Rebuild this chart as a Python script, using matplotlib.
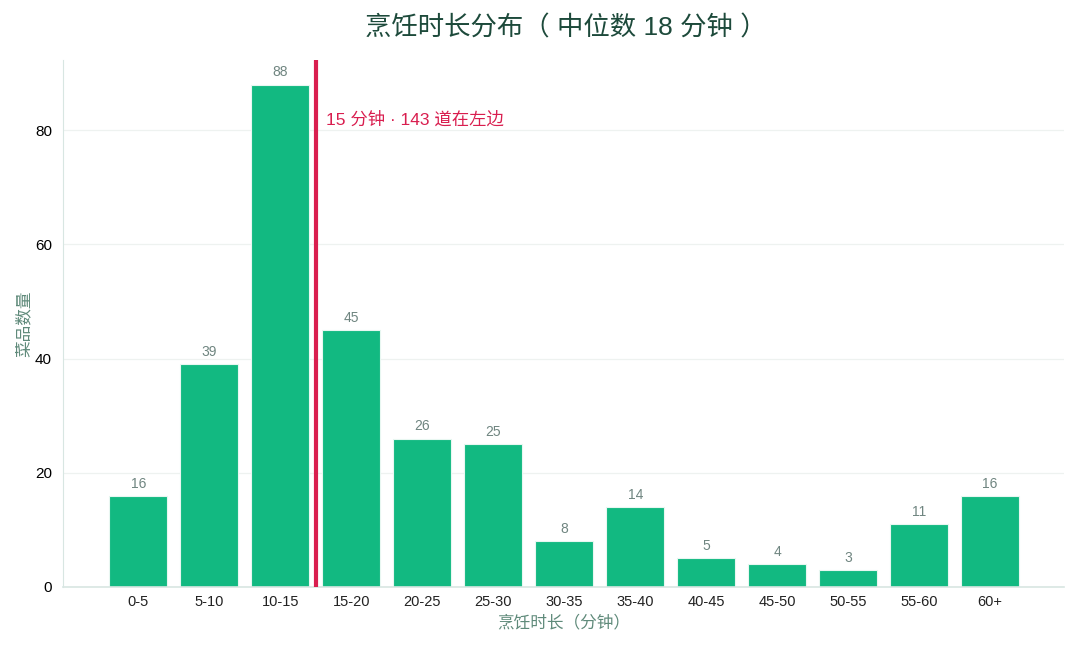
import matplotlib
matplotlib.use("Agg")
import matplotlib.pyplot as plt
import numpy as np

plt.rcParams['font.family'] = ['Liberation Sans', 'Noto Sans CJK SC', 'DejaVu Sans']

# data
bins = ['0-5', '5-10', '10-15', '15-20', '20-25', '25-30', '30-35',
        '35-40', '40-45', '45-50', '50-55', '55-60', '60+']
counts = [16, 39, 88, 45, 26, 25, 8, 14, 5, 4, 3, 11, 16]
cut_pos = 2.5          # boundary between 10-15 and 15-20
cut_label = '15 分钟 · 143 道在左边'

fig = plt.figure(figsize=(10.8, 6.48), dpi=100)
ax = fig.add_axes([63/1080, 1-587/648, (1064-63)/1080, (587-60)/648])

x = np.arange(len(bins))
ax.bar(x, counts, width=0.82, color='#12b981', edgecolor='#e8f7f1', linewidth=0.8, zorder=2)
for xi, c in zip(x, counts):
    ax.text(xi, c + 0.9, str(c), ha='center', va='bottom', fontsize=10, color='#6f8580')

ax.axvline(cut_pos, color='#d91e4f', linewidth=3, zorder=3)
ax.text(cut_pos + 0.14, 81.8, cut_label, color='#d91e4f', fontsize=12.5, va='center', ha='left')

ax.set_xlim(-1.06, 13.04)
ax.set_ylim(0, 92.3)
ax.set_xticks(x)
ax.set_xticklabels(bins, fontsize=10.5, color='#222222')
ax.set_yticks([0, 20, 40, 60, 80])
ax.tick_params(axis='y', labelsize=11, length=0, pad=8)
ax.tick_params(axis='x', length=0, pad=6)
ax.yaxis.grid(True, color='#eef2f0', linewidth=0.9, zorder=0)
ax.set_axisbelow(True)

for s in ['top', 'right']:
    ax.spines[s].set_visible(False)
ax.spines['left'].set_color('#d8e6e2')
ax.spines['bottom'].set_color('#d8e6e2')
ax.spines['bottom'].set_linewidth(1.2)

ax.set_ylabel('菜品数量', fontsize=12, color='#5f8a7a', labelpad=2)
ax.set_xlabel('烹饪时长（分钟）', fontsize=12, color='#5f8a7a', labelpad=4)
fig.text(0.524, 1-28/648, '烹饪时长分布（ 中位数 18 分钟 ）', ha='center', va='center',
         fontsize=19, color='#1d4a3b')

fig.savefig('out.png', dpi=100)
